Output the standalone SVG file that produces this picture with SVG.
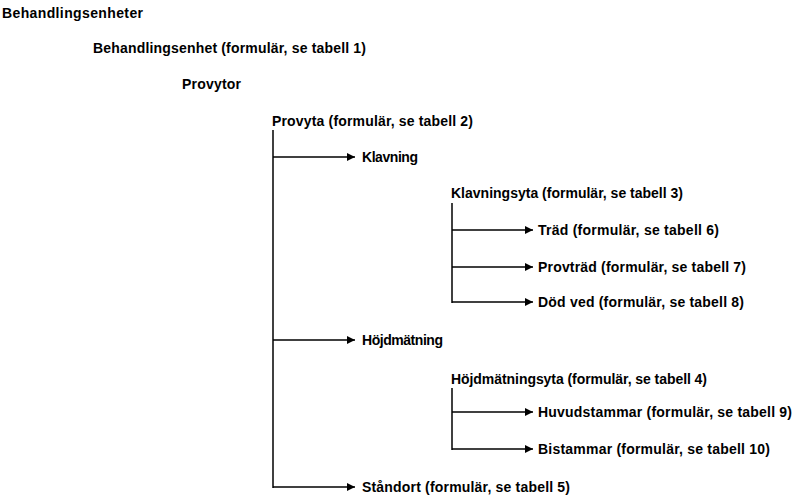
<svg xmlns="http://www.w3.org/2000/svg" width="800" height="504" viewBox="0 0 800 504">
<style>
text{font-family:"Liberation Sans",Arial,sans-serif;font-weight:bold;font-size:14px;fill:#000}
.c line{stroke:#000;stroke-width:1.5}
</style>
<defs><marker id="a" viewBox="0 0 10 10" refX="10" refY="5" markerWidth="8" markerHeight="8" markerUnits="userSpaceOnUse" orient="auto"><path d="M0,0L10,5L0,10z"/></marker></defs>
<rect width="800" height="504" fill="#fff"/>
<g class="c">
<line x1="273" y1="130" x2="273" y2="488"/>
<line x1="273" y1="157" x2="355" y2="157" marker-end="url(#a)"/>
<line x1="273" y1="340" x2="355" y2="340" marker-end="url(#a)"/>
<line x1="273" y1="487" x2="355" y2="487" marker-end="url(#a)"/>
<line x1="452" y1="203" x2="452" y2="303"/>
<line x1="452" y1="230" x2="533" y2="230" marker-end="url(#a)"/>
<line x1="452" y1="267" x2="533" y2="267" marker-end="url(#a)"/>
<line x1="452" y1="302" x2="533" y2="302" marker-end="url(#a)"/>
<line x1="452" y1="388" x2="452" y2="450"/>
<line x1="452" y1="412" x2="533" y2="412" marker-end="url(#a)"/>
<line x1="452" y1="449" x2="533" y2="449" marker-end="url(#a)"/>
</g>
<g id="n1"><text x="2" y="18" textLength="141">Behandlingsenheter</text></g>
<g id="n2"><text x="93" y="53" textLength="273">Behandlingsenhet (formulär, se tabell 1)</text></g>
<g id="n3"><text x="182" y="89" textLength="59">Provytor</text></g>
<g id="n4"><text x="272" y="126" textLength="201">Provyta (formulär, se tabell 2)</text></g>
<g id="n5"><text x="362" y="162" textLength="56">Klavning</text></g>
<g id="n6"><text x="451" y="198" textLength="232">Klavningsyta (formulär, se tabell 3)</text></g>
<g id="n7"><text x="538" y="235" textLength="181">Träd (formulär, se tabell 6)</text></g>
<g id="n8"><text x="538" y="272" textLength="208">Provträd (formulär, se tabell 7)</text></g>
<g id="n9"><text x="538" y="307" textLength="206">Död ved (formulär, se tabell 8)</text></g>
<g id="n10"><text x="362" y="345" textLength="81">Höjdmätning</text></g>
<g id="n11"><text x="451" y="384" textLength="256">Höjdmätningsyta (formulär, se tabell 4)</text></g>
<g id="n12"><text x="538" y="417" textLength="254">Huvudstammar (formulär, se tabell 9)</text></g>
<g id="n13"><text x="538" y="454" textLength="232">Bistammar (formulär, se tabell 10)</text></g>
<g id="n14"><text x="362" y="492" textLength="208">Ståndort (formulär, se tabell 5)</text></g>
</svg>
